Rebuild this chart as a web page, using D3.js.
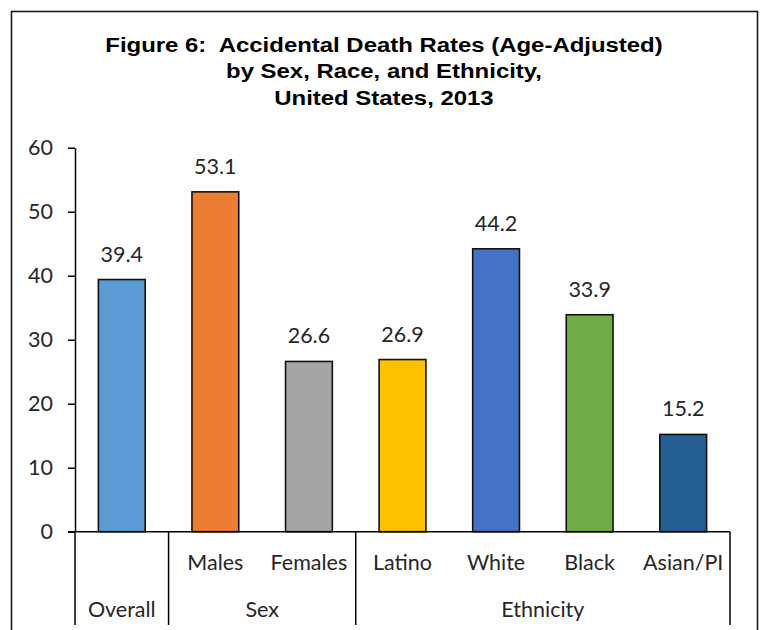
<!DOCTYPE html>
<html>
<head>
<meta charset="utf-8">
<script src="https://cdn.jsdelivr.net/npm/d3@7"></script>
<style>
  html, body { margin: 0; padding: 0; background: #fff; }
  svg { display: block; }
  .title text { white-space: pre; }
</style>
</head>
<body>
<svg id="chart" width="761" height="630"></svg>
<script>
// Accidental death rates per 100,000 (age-adjusted), United States, 2013
const categories = ["Overall", "Males", "Females", "Latino", "White", "Black", "Asian/PI"];
const subLabels  = ["", "Males", "Females", "Latino", "White", "Black", "Asian/PI"];
const groupOf    = ["Overall", "Sex", "Sex", "Ethnicity", "Ethnicity", "Ethnicity", "Ethnicity"];
const groupNames = ["Overall", "Sex", "Ethnicity"];
const rates      = [39.4, 53.1, 26.6, 26.9, 44.2, 33.9, 15.2];
const yTicks     = [0, 10, 20, 30, 40, 50, 60];
const titleLines = [
  "Figure 6:  Accidental Death Rates (Age-Adjusted)",
  "by Sex, Race, and Ethnicity,",
  "United States, 2013"
];

const barColors = ["#5B9BD5", "#ED7D31", "#A5A5A5", "#FFC000", "#4472C4", "#70AD47", "#255E91"];
const textColor = "#262626";
const labelFont = "Lato, 'Open Sans', sans-serif";
const labelSize = 21.5;

const svg = d3.select("#chart");

// outer frame
svg.append("rect")
  .attr("x", 11.5).attr("y", 11.5)
  .attr("width", 746).attr("height", 640)
  .attr("fill", "none").attr("stroke", "#1a1a1a").attr("stroke-width", 1.6);

// title (slightly widened face, centred on the frame)
const titleX = 384;
svg.append("g")
  .attr("class", "title")
  .attr("transform", `translate(${titleX},0) scale(1.14,1)`)
  .selectAll("text")
  .data(titleLines)
  .join("text")
  .attr("x", 0)
  .attr("y", (d, i) => 52.3 + i * 26.2)
  .attr("text-anchor", "middle")
  .attr("font-family", "'Liberation Sans', Arial, sans-serif")
  .attr("font-weight", "bold")
  .attr("font-size", 21)
  .attr("fill", "#000")
  .text(d => d);

const x = d3.scaleBand()
  .domain(categories)
  .range([75, 730])
  .paddingInner(0.5)
  .paddingOuter(0.25);

const y = d3.scaleLinear()
  .domain([0, 60])
  .range([531.7, 147.7]);

// y axis
const yAxis = svg.append("g")
  .attr("transform", `translate(${x.range()[0]},0)`)
  .call(d3.axisLeft(y).tickValues(yTicks).tickSize(7).tickPadding(15).tickSizeOuter(0));
yAxis.select(".domain").attr("stroke", "#000").attr("stroke-width", 1.5);
yAxis.selectAll(".tick line").attr("stroke", "#000").attr("stroke-width", 1.5);
yAxis.selectAll(".tick text")
  .attr("font-family", labelFont)
  .attr("font-size", labelSize)
  .attr("fill", textColor);

// bars
svg.append("g")
  .selectAll("rect")
  .data(categories)
  .join("rect")
  .attr("x", d => x(d))
  .attr("y", (d, i) => y(rates[i]))
  .attr("width", x.bandwidth())
  .attr("height", (d, i) => y(0) - y(rates[i]))
  .attr("fill", (d, i) => barColors[i])
  .attr("stroke", "#111")
  .attr("stroke-width", 1.6);

// value labels
svg.append("g")
  .selectAll("text")
  .data(categories)
  .join("text")
  .attr("x", d => x(d) + x.bandwidth() / 2)
  .attr("y", (d, i) => y(rates[i]) - 18)
  .attr("text-anchor", "middle")
  .attr("font-family", labelFont)
  .attr("font-size", labelSize)
  .attr("fill", textColor)
  .text((d, i) => rates[i].toFixed(1));

// category axis (two levels)
const xAxisY = y(0);
const labelBottom = 625;
svg.append("line")
  .attr("x1", 68).attr("x2", x.range()[1])
  .attr("y1", xAxisY).attr("y2", xAxisY)
  .attr("stroke", "#000").attr("stroke-width", 1.5);

// group extents from category positions
const groups = groupNames.map(name => {
  const members = categories.filter((c, i) => groupOf[i] === name);
  const step = x.step();
  const first = members[0], last = members[members.length - 1];
  const x0 = x(first) + x.bandwidth() / 2 - step / 2;
  const x1 = x(last) + x.bandwidth() / 2 + step / 2;
  return { name, x0, x1 };
});

const boundaries = [groups[0].x0, ...groups.map(g => g.x1)];
svg.append("g")
  .selectAll("line")
  .data(boundaries)
  .join("line")
  .attr("x1", d => d).attr("x2", d => d)
  .attr("y1", xAxisY).attr("y2", labelBottom)
  .attr("stroke", "#000").attr("stroke-width", 1.5);

svg.append("g")
  .selectAll("text")
  .data(categories)
  .join("text")
  .attr("x", d => x(d) + x.bandwidth() / 2)
  .attr("y", 570)
  .attr("text-anchor", "middle")
  .attr("font-family", labelFont)
  .attr("font-size", labelSize)
  .attr("fill", textColor)
  .text((d, i) => subLabels[i]);

svg.append("g")
  .selectAll("text")
  .data(groups)
  .join("text")
  .attr("x", d => (d.x0 + d.x1) / 2)
  .attr("y", 617)
  .attr("text-anchor", "middle")
  .attr("font-family", labelFont)
  .attr("font-size", labelSize)
  .attr("fill", textColor)
  .text(d => d.name);
</script>
</body>
</html>
